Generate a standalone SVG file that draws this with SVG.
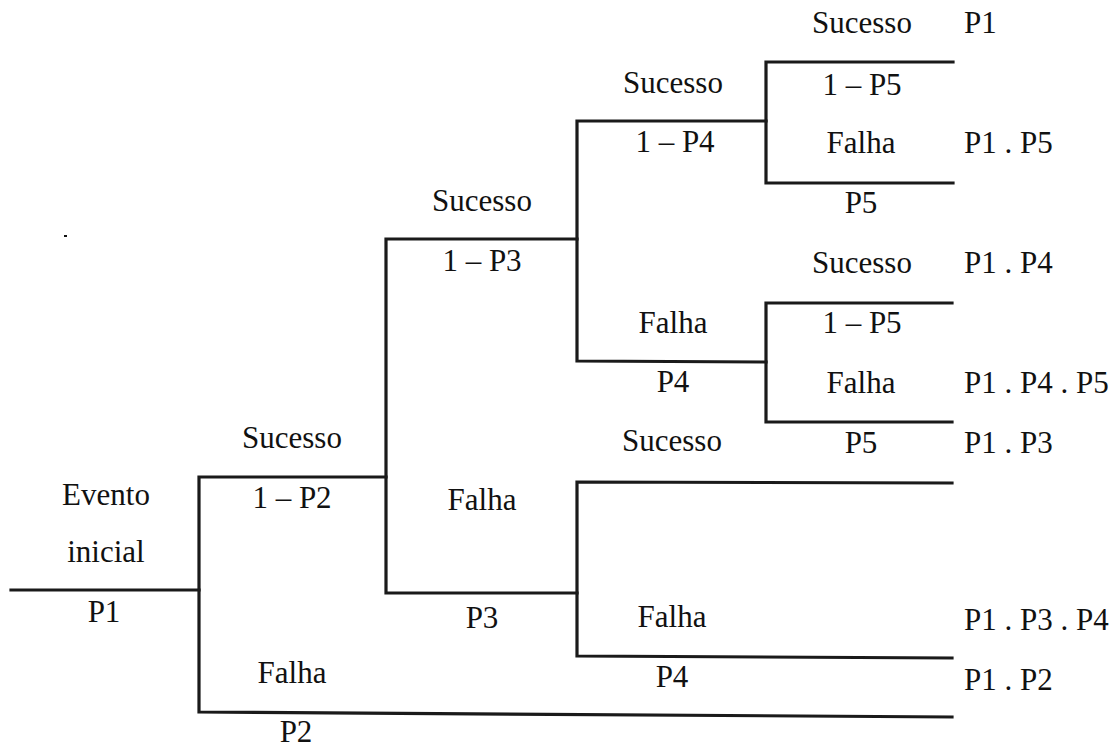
<svg xmlns="http://www.w3.org/2000/svg" width="1114" height="747" viewBox="0 0 1114 747">
<style>
text{font-family:"Liberation Serif","Times New Roman",serif;font-size:31px;fill:#111;}
.c{text-anchor:middle;}
.l{fill:none;stroke:#1a1a1a;stroke-width:3.2;stroke-linecap:square;stroke-linejoin:miter;}
</style>
<rect x="0" y="0" width="1114" height="747" fill="#fff"/>
<rect x="64" y="235" width="3" height="2" fill="#111"/>
<g id="connectors" class="l">
<path class="l" d="M11,590 H199"/>
<path class="l" d="M386,477 H199 V712 L952,717"/>
<path class="l" d="M577,239 H386 V593 H577"/>
<path class="l" d="M766,121 H577 V361 L766,362"/>
<path class="l" d="M952,483 L577,482 V656 L952,658"/>
<path class="l" d="M953,62 H766 V183 H953"/>
<path class="l" d="M952,303 H766 V422 H952"/>
</g>
<g id="initial">
<text class="c" x="106" y="505">Evento</text>
<text class="c" x="106" y="562">inicial</text>
<text class="c" x="104" y="622">P1</text>
</g>
<g id="event-p2">
<text class="c" x="292" y="448">Sucesso</text>
<text class="c" x="292" y="508">1 – P2</text>
<text class="c" x="292" y="683">Falha</text>
<text class="c" x="296" y="742">P2</text>
</g>
<g id="event-p3">
<text class="c" x="482" y="211">Sucesso</text>
<text class="c" x="482" y="271">1 – P3</text>
<text class="c" x="482" y="510">Falha</text>
<text class="c" x="482" y="628">P3</text>
</g>
<g id="event-p4-upper">
<text class="c" x="673" y="93">Sucesso</text>
<text class="c" x="675" y="152">1 – P4</text>
<text class="c" x="673" y="333">Falha</text>
<text class="c" x="673" y="392">P4</text>
</g>
<g id="event-p4-lower">
<text class="c" x="672" y="451">Sucesso</text>
<text class="c" x="672" y="627">Falha</text>
<text class="c" x="672" y="687">P4</text>
</g>
<g id="event-p5-upper">
<text class="c" x="862" y="33">Sucesso</text>
<text class="c" x="862" y="95">1 – P5</text>
<text class="c" x="861" y="153">Falha</text>
<text class="c" x="861" y="213">P5</text>
</g>
<g id="event-p5-lower">
<text class="c" x="862" y="273">Sucesso</text>
<text class="c" x="862" y="333">1 – P5</text>
<text class="c" x="861" y="393">Falha</text>
<text class="c" x="861" y="453">P5</text>
</g>
<g id="outcomes">
<text x="964" y="33">P1</text>
<text x="964" y="153">P1 . P5</text>
<text x="964" y="273">P1 . P4</text>
<text x="964" y="393">P1 . P4 . P5</text>
<text x="964" y="453">P1 . P3</text>
<text x="964" y="630">P1 . P3 . P4</text>
<text x="964" y="690">P1 . P2</text>
</g>
</svg>
